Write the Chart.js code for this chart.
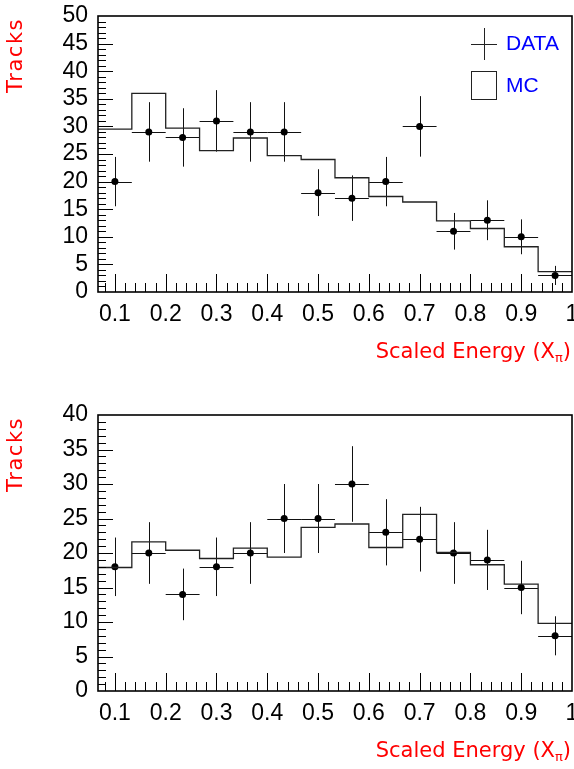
<!DOCTYPE html>
<html>
<head>
<meta charset="utf-8">
<script src="https://cdn.jsdelivr.net/npm/chart.js@4.4.1/dist/chart.umd.min.js"></script>
<style>
  body { margin: 0; background: #fff; width: 574px; height: 769px; overflow: hidden; position: relative; }
  .panel { position: absolute; left: 0; width: 574px; }
</style>
</head>
<body>
<div class="panel" style="top:0;height:384px"><canvas id="topChart" width="574" height="384"></canvas></div>
<div class="panel" style="top:384px;height:385px"><canvas id="bottomChart" width="574" height="385"></canvas></div>
<script>
// 14 bins in scaled energy, edges and centres
const binEdges = [0.0667, 0.1333, 0.2, 0.2667, 0.3333, 0.4, 0.4667, 0.5333, 0.6, 0.6667, 0.7333, 0.8, 0.8667, 0.9333, 1.0];
const binCenters = [0.1, 0.1667, 0.2333, 0.3, 0.3667, 0.4333, 0.5, 0.5667, 0.6333, 0.7, 0.7667, 0.8333, 0.9, 0.9667];

// upper panel
const topData = [20, 29, 28, 31, 29, 29, 18, 17, 20, 30, 11, 13, 10, 3];
const topErr = [4.47, 5.39, 5.29, 5.57, 5.39, 5.39, 4.24, 4.12, 4.47, 5.48, 3.32, 3.61, 3.16, 1.73];
const topMC = [29.5, 36.0, 29.7, 25.6, 27.9, 24.7, 24.0, 20.7, 17.3, 16.3, 12.9, 11.5, 8.2, 3.7];

// lower panel
const bottomData = [18, 20, 14, 18, 20, 25, 25, 30, 23, 22, 20, 19, 15, 8];
const bottomErr = [4.24, 4.47, 3.74, 4.24, 4.47, 5.0, 5.0, 5.48, 4.8, 4.69, 4.47, 4.36, 3.87, 2.83];
const bottomMC = [17.9, 21.6, 20.4, 19.2, 20.7, 19.4, 23.7, 24.2, 20.8, 25.6, 20.1, 18.3, 15.5, 9.8];

const xTicks = [0.1, 0.2, 0.3, 0.4, 0.5, 0.6, 0.7, 0.8, 0.9, 1.0];
const xTickLabels = ['0.1', '0.2', '0.3', '0.4', '0.5', '0.6', '0.7', '0.8', '0.9', '1'];

const tickFont = '"Liberation Sans", sans-serif';
const titleFont = '"DejaVu Sans", sans-serif';

// error bars: horizontal over full bin, vertical +- err
const errorBars = {
  id: 'errorBars',
  beforeDatasetsDraw(chart) {
    const { ctx, scales: { x, y } } = chart;
    const ds = chart.data.datasets[1];
    ctx.save();
    ctx.strokeStyle = '#111';
    ctx.lineWidth = 1;
    ds.data.forEach((p, i) => {
      const e = ds.errors[i];
      const px = Math.round(x.getPixelForValue(p.x)) + 0.5;
      const py = Math.round(y.getPixelForValue(p.y)) + 0.5;
      ctx.beginPath();
      ctx.moveTo(x.getPixelForValue(binEdges[i]), py);
      ctx.lineTo(x.getPixelForValue(binEdges[i + 1]), py);
      ctx.moveTo(px, y.getPixelForValue(p.y - e));
      ctx.lineTo(px, y.getPixelForValue(p.y + e));
      ctx.stroke();
    });
    ctx.restore();
  }
};

// frame + inside tick marks + titles (+ legend on the top one)
const frame = {
  id: 'frame',
  afterDraw(chart, args, opts) {
    const { ctx, chartArea: a, scales: { x, y } } = chart;
    ctx.save();
    ctx.strokeStyle = '#000';
    ctx.lineWidth = 1;
    ctx.beginPath();
    for (let v = 0.08; v < 1.0; v += 0.02) {
      const major = Math.abs(v * 10 - Math.round(v * 10)) < 1e-6;
      const px = Math.round(x.getPixelForValue(v)) + 0.5;
      ctx.moveTo(px, a.bottom);
      ctx.lineTo(px, a.bottom - (major ? 18 : 9));
    }
    for (let v = 1; v < opts.yMax; v++) {
      const major = v % 5 === 0;
      const py = Math.round(y.getPixelForValue(v)) + 0.5;
      ctx.moveTo(a.left, py);
      ctx.lineTo(a.left + (major ? 15 : 8), py);
    }
    ctx.stroke();
    ctx.lineWidth = 1.6;
    ctx.strokeRect(a.left, a.top, a.right - a.left, a.bottom - a.top);

    // x title with subscript pi
    ctx.fillStyle = '#ff0000';
    ctx.textBaseline = 'alphabetic';
    ctx.textAlign = 'left';
    const big = '21px ' + titleFont, small = '13px ' + titleFont;
    const main = 'Scaled Energy (X';
    ctx.font = big;
    const w1 = ctx.measureText(main).width, w3 = ctx.measureText(')').width;
    ctx.font = small;
    const w2 = ctx.measureText('π').width;
    const base = a.bottom + 66;
    let sx = a.right - 1 - (w1 + w2 + w3);
    ctx.font = big;
    ctx.fillText(main, sx, base);
    ctx.font = small;
    ctx.fillText('π', sx + w1, base + 4);
    ctx.font = big;
    ctx.fillText(')', sx + w1 + w2, base);

    // y title, rotated, aligned to the top of the axis
    ctx.save();
    ctx.translate(17, a.top + 2);
    ctx.rotate(-Math.PI / 2);
    ctx.textAlign = 'right';
    ctx.textBaseline = 'middle';
    ctx.letterSpacing = '1.5px';
    ctx.fillText('Tracks', 0, 0);
    ctx.restore();

    if (opts.legend) {
      ctx.strokeStyle = '#222';
      ctx.lineWidth = 1;
      ctx.beginPath();
      ctx.moveTo(471, 44.5); ctx.lineTo(497, 44.5);
      ctx.moveTo(484.5, 28); ctx.lineTo(484.5, 60);
      ctx.stroke();
      ctx.strokeRect(471.5, 71.5, 25, 28);
      ctx.fillStyle = '#0000ff';
      ctx.font = '21px ' + tickFont;
      ctx.textAlign = 'left';
      ctx.textBaseline = 'middle';
      ctx.fillText('DATA', 506, 44);
      ctx.fillText('MC', 506, 86);
    }
    ctx.restore();
  }
};

function makeChart(id, dataVals, errVals, mcVals, yMax, padTop, xAxisHeight, legend) {
  const mcPoints = binEdges.map((e, i) => ({ x: e, y: mcVals[Math.min(i, mcVals.length - 1)] }));
  const dataPoints = binCenters.map((c, i) => ({ x: c, y: dataVals[i] }));
  return new Chart(document.getElementById(id), {
    type: 'scatter',
    data: {
      datasets: [
        {
          type: 'line',
          label: 'MC',
          data: mcPoints,
          stepped: true,
          borderColor: '#222',
          borderWidth: 1.3,
          pointRadius: 0,
          fill: false
        },
        {
          label: 'DATA',
          data: dataPoints,
          errors: errVals,
          pointRadius: 3.5,
          backgroundColor: '#000',
          borderColor: '#000',
          borderWidth: 0
        }
      ]
    },
    options: {
      responsive: false,
      animation: false,
      devicePixelRatio: 1,
      layout: { autoPadding: false, padding: { left: 0, right: 2, top: padTop, bottom: 0 } },
      plugins: {
        legend: { display: false },
        tooltip: { enabled: false },
        frame: { yMax: yMax, legend: legend }
      },
      scales: {
        x: {
          type: 'linear',
          min: 0.0667,
          max: 1.0,
          afterBuildTicks: s => { s.ticks = xTicks.map(v => ({ value: v })); },
          afterFit: s => { s.height = xAxisHeight; s.paddingLeft = 0; s.paddingRight = 0; },
          grid: { display: false, drawTicks: false },
          border: { display: false },
          ticks: {
            padding: 9,
            color: '#000',
            maxRotation: 0,
            autoSkip: false,
            font: { family: tickFont, size: 23 },
            callback: (v, i) => xTickLabels[i]
          }
        },
        y: {
          min: 0,
          max: yMax,
          afterFit: s => { s.width = 98; s.paddingTop = 0; s.paddingBottom = 0; },
          grid: { display: false, drawTicks: false },
          border: { display: false },
          ticks: {
            stepSize: 5,
            autoSkip: false,
            padding: 10,
            color: '#000',
            font: { family: tickFont, size: 23 }
          }
        }
      }
    },
    plugins: [errorBars, frame]
  });
}

makeChart('topChart', topData, topErr, topMC, 50, 16, 92, true);
makeChart('bottomChart', bottomData, bottomErr, bottomMC, 40, 31, 78, false);
</script>
</body>
</html>
